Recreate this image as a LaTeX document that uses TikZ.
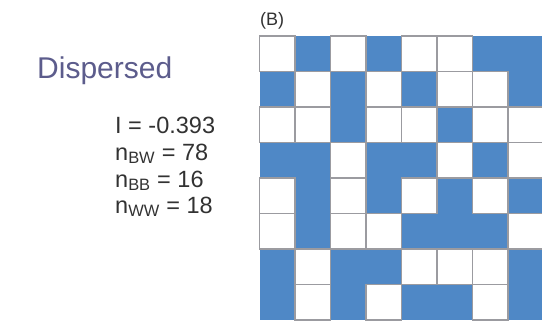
\documentclass[tikz,border=0pt]{standalone}
\usepackage{fontspec}
\setmainfont{Liberation Sans}
\definecolor{cellblue}{RGB}{79,136,198}
\definecolor{cellline}{RGB}{155,155,160}
\definecolor{titlecol}{RGB}{92,92,140}
\definecolor{statcol}{RGB}{50,50,50}
\begin{document}
\begin{tikzpicture}[x=1pt,y=-1pt,
  whitecell/.style={fill=white,draw=cellline,line width=1.4pt},
  stat/.style={anchor=base west,inner sep=0pt,text=statcol,font=\fontsize{23.5}{27}\selectfont}]
\useasboundingbox (0,0) rectangle (542,325);
\fill[white] (0,0) rectangle (542,325);
\def\sz{35.5}
\def\xo{259.5}
\def\yo{36}
\begin{scope}
\clip (0,0) rectangle (542,325);
\fill[cellblue] (\xo,\yo) rectangle ++(8*\sz,8*\sz);
\foreach \c/\r in {1/1,3/1,5/1,6/1,
                   2/2,4/2,6/2,7/2,
                   1/3,2/3,4/3,5/3,7/3,8/3,
                   3/4,6/4,8/4,
                   1/5,3/5,5/5,7/5,
                   1/6,3/6,4/6,8/6,
                   2/7,5/7,6/7,7/7,
                   2/8,4/8,7/8}
  \draw[whitecell] ({\xo+(\c-1)*\sz},{\yo+(\r-1)*\sz}) rectangle ++(\sz,\sz);
\end{scope}
\node[anchor=base west,inner sep=0pt,text=statcol,font=\fontsize{18}{21}\selectfont] (lab) at (260,25) {(B)};
\node[anchor=base west,inner sep=0pt,text=titlecol,font=\fontsize{30}{35}\selectfont] (title) at (37,78) {Dispersed};
\node[stat] (s1) at (115,133) {I = -0.393};
\node[stat] (s2) at (115,160) {n\textsubscript{BW} = 78};
\node[stat] (s3) at (115,187) {n\textsubscript{BB} = 16};
\node[stat] (s4) at (115,213) {n\textsubscript{WW} = 18};
\end{tikzpicture}
\end{document}
